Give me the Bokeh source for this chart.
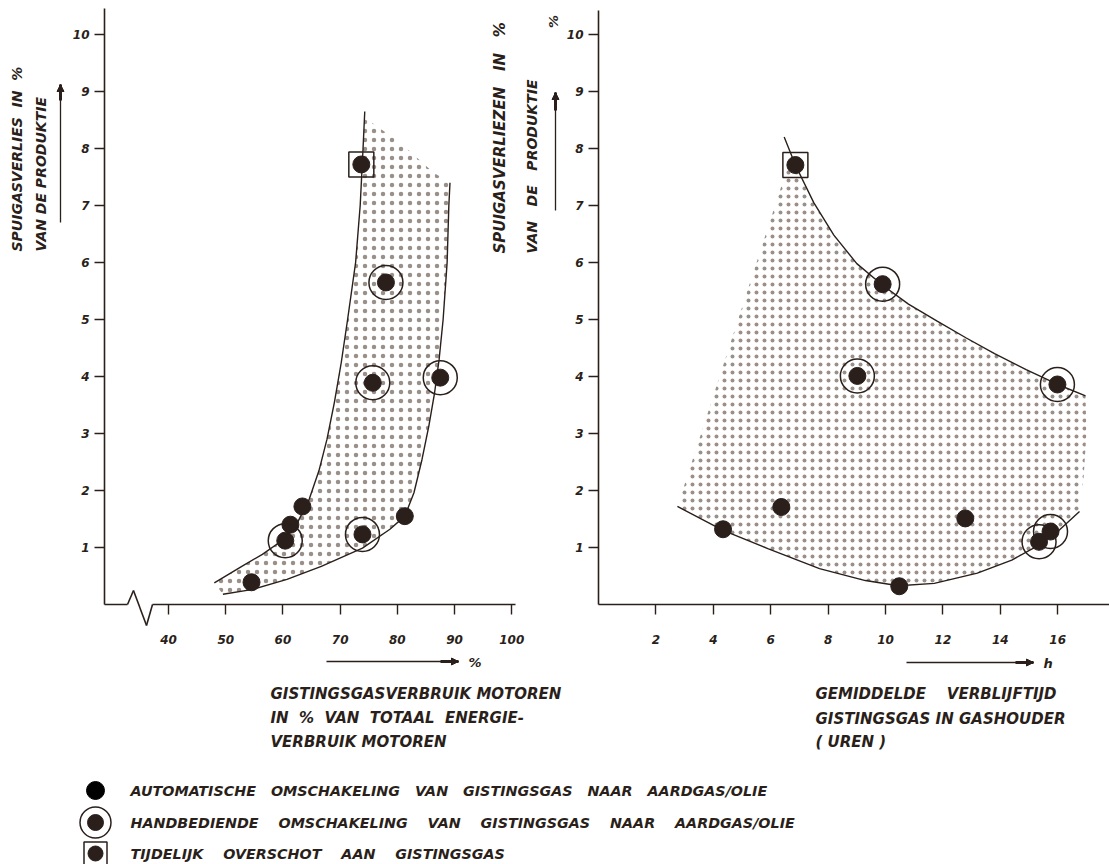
from math import pi
from bokeh.plotting import figure
from bokeh.models import Label, Arrow, NormalHead, Range1d, FixedTicker, LinearAxis
from bokeh.embed import file_html
from bokeh.resources import INLINE

INK = "#2a1f1a"
DOTS = "#9a908a"
FONT = "DejaVu Sans"

# ---------------- data ----------------
# Left panel: gas use of engines (% of total energy use) vs purge-gas losses (%)
left_auto_x = [54.5, 61.3, 63.4, 81.3]
left_auto_y = [0.39, 1.40, 1.72, 1.55]
left_hand_x = [60.4, 73.9, 75.7, 78.0, 87.5]
left_hand_y = [1.12, 1.23, 3.89, 5.65, 3.98]
left_temp_x = [73.7]
left_temp_y = [7.72]
left_bound1_x = [48.0, 52.8, 56.4, 60.1, 62.6, 64.6, 66.3, 67.7, 69.0, 70.2, 71.3, 72.7, 73.5, 74.0, 74.3]
left_bound1_y = [0.38, 0.67, 0.88, 1.14, 1.45, 1.85, 2.35, 2.90, 3.55, 4.25, 5.00, 6.00, 7.00, 8.00, 8.65]
left_bound2_x = [49.5, 54.5, 60.7, 66.7, 73.9, 78.7, 81.3, 82.9, 84.3, 85.5, 86.5, 87.3, 88.0, 88.7, 89.0, 89.2]
left_bound2_y = [0.18, 0.26, 0.44, 0.67, 0.99, 1.32, 1.55, 1.96, 2.54, 3.13, 3.71, 4.30, 5.00, 6.00, 7.00, 7.40]
left_top_x = [74.2, 80.5, 86.3, 89.2]
left_top_y = [8.55, 8.10, 7.58, 7.40]
left_xticks = [40, 50, 60, 70, 80, 90, 100]

# Right panel: mean residence time in gas holder (h) vs purge-gas losses (%)
right_auto_x = [4.34, 6.37, 10.48, 12.78]
right_auto_y = [1.32, 1.71, 0.32, 1.51]
right_hand_x = [9.90, 9.02, 15.99, 15.35, 15.75]
right_hand_y = [5.62, 4.01, 3.86, 1.10, 1.28]
right_temp_x = [6.86]
right_temp_y = [7.71]
right_upper_x = [6.47, 6.86, 7.5, 8.2, 9.0, 9.9, 10.8, 11.8, 12.8, 13.8, 14.9, 16.0, 16.97]
right_upper_y = [8.20, 7.71, 7.05, 6.48, 5.98, 5.60, 5.27, 4.97, 4.68, 4.40, 4.12, 3.86, 3.66]
right_lower_x = [2.75, 4.34, 5.9, 7.7, 9.3, 10.45, 11.7, 13.2, 14.4, 15.3, 16.0, 16.76]
right_lower_y = [1.72, 1.30, 0.98, 0.63, 0.42, 0.33, 0.37, 0.55, 0.78, 1.03, 1.28, 1.63]
right_edge_x = [16.97, 17.0, 16.9, 16.76]
right_edge_y = [3.66, 3.0, 2.2, 1.63]
right_side_x = [2.75, 6.7]
right_side_y = [1.72, 7.85]
right_xticks = [2, 4, 6, 8, 10, 12, 14, 16]

y_ticks = [1, 2, 3, 4, 5, 6, 7, 8, 9, 10]


def spaced(words, n):
    return ("\u00a0" * (n - 1) + " ").join(words)


legend_labels = [
    spaced(["AUTOMATISCHE", "OMSCHAKELING", "VAN", "GISTINGSGAS", "NAAR", "AARDGAS/OLIE"], 3),
    spaced(["HANDBEDIENDE", "OMSCHAKELING", "VAN", "GISTINGSGAS", "NAAR", "AARDGAS/OLIE"], 4),
    spaced(["TIJDELIJK", "OVERSCHOT", "AAN", "GISTINGSGAS"], 4),
]

# ---------------- layout constants (page pixels) ----------------
Y0_PX, PX_PER_Y = 604.0, 57.0
L_X0, L_PX0, L_PXU = 28.8, 104.0, 5.72
R_PX0, R_PXU = 598.0, 28.7
W, H = 1109, 864


def Y(py):
    return (Y0_PX - py) / PX_PER_Y


def LX(px):
    return L_X0 + (px - L_PX0) / L_PXU


def RX(px):
    return (px - R_PX0) / R_PXU


p = figure(width=W, height=H, output_backend="svg", toolbar_location=None,
           x_range=Range1d(LX(0), LX(W)), y_range=Range1d(Y(H), Y(0)),
           x_axis_location=None, y_axis_location=None, min_border=0)
p.extra_x_ranges = {"right": Range1d(RX(0), RX(W))}
p.grid.visible = False
p.outline_line_color = None
p.background_fill_color = "white"
p.border_fill_color = "white"


def styled_axis(ax):
    ax.axis_line_color = INK
    ax.axis_line_width = 1.6
    ax.major_tick_line_color = INK
    ax.major_tick_line_width = 1.4
    ax.major_tick_in = 0
    ax.major_tick_out = 10
    ax.minor_tick_line_color = None
    ax.major_label_text_font = FONT
    ax.major_label_text_font_size = "12px"
    ax.major_label_text_font_style = "bold italic"
    ax.major_label_text_color = INK
    return ax


axLx = styled_axis(LinearAxis(fixed_location=0, bounds=(LX(152), LX(515)),
                              ticker=FixedTicker(ticks=left_xticks), major_label_standoff=20))
axLy = styled_axis(LinearAxis(fixed_location=L_X0, bounds=(0, Y(8)),
                              ticker=FixedTicker(ticks=y_ticks), major_label_standoff=5))
axRx = styled_axis(LinearAxis(x_range_name="right", fixed_location=0, bounds=(0, RX(W)),
                              ticker=FixedTicker(ticks=right_xticks), major_label_standoff=20))
axRy = styled_axis(LinearAxis(x_range_name="right", fixed_location=0, bounds=(0, Y(10)),
                              ticker=FixedTicker(ticks=y_ticks), major_label_standoff=5))
p.add_layout(axLx, "below")
p.add_layout(axRx, "below")
p.add_layout(axLy, "left")
p.add_layout(axRy, "left")


def markers(ax, ay, hx, hy, tx, ty, rn="default"):
    p.scatter(ax, ay, marker="circle", size=17, color=INK, x_range_name=rn)
    p.scatter(hx, hy, marker="circle", size=34, fill_color=None, line_color=INK,
              line_width=1.5, x_range_name=rn)
    p.scatter(hx, hy, marker="circle", size=17, color=INK, x_range_name=rn)
    p.scatter(tx, ty, marker="square", size=25, fill_color=None, line_color=INK,
              line_width=1.5, x_range_name=rn)
    p.scatter(tx, ty, marker="circle", size=17, color=INK, x_range_name=rn)


# ---------------- left panel ----------------
fill_lx = left_bound1_x[:14] + left_top_x + left_bound2_x[::-1][1:]
fill_ly = left_bound1_y[:14] + left_top_y + left_bound2_y[::-1][1:]
p.patch(fill_lx, fill_ly, fill_alpha=0, line_color=None,
        hatch_pattern=".", hatch_color=DOTS, hatch_scale=9, hatch_weight=0.9)
p.line(left_bound1_x, left_bound1_y, line_color=INK, line_width=1.4)
p.line(left_bound2_x, left_bound2_y, line_color=INK, line_width=1.4)
markers(left_auto_x, left_auto_y, left_hand_x, left_hand_y, left_temp_x, left_temp_y)

# ---------------- right panel ----------------
fill_rx = right_side_x[1:] + right_upper_x[1:] + right_edge_x[1:] + right_lower_x[::-1][1:]
fill_ry = right_side_y[1:] + right_upper_y[1:] + right_edge_y[1:] + right_lower_y[::-1][1:]
p.patch(fill_rx, fill_ry, fill_alpha=0, line_color=None, x_range_name="right",
        hatch_pattern=".", hatch_color=DOTS, hatch_scale=8, hatch_weight=0.9)
p.line(right_upper_x, right_upper_y, line_color=INK, line_width=1.4, x_range_name="right")
p.line(right_lower_x, right_lower_y, line_color=INK, line_width=1.4, x_range_name="right")
markers(right_auto_x, right_auto_y, right_hand_x, right_hand_y, right_temp_x, right_temp_y, "right")


# ---------------- decorations, titles (page-pixel placement) ----------------
def txt(px, py, t, angle=0.0, size="15px", align="left"):
    p.add_layout(Label(x=LX(px), y=Y(py), text=t, angle=angle, text_font=FONT,
                       text_font_size=size, text_font_style="bold italic",
                       text_color=INK, text_align=align, text_baseline="middle"))


def seg(px0, py0, px1, py1, w=1.6):
    p.add_layout(Arrow(end=None, x_start=LX(px0), y_start=Y(py0), x_end=LX(px1), y_end=Y(py1),
                       line_color=INK, line_width=w))


def arrow(px0, py0, px1, py1, pxt, pyt):
    seg(px0, py0, px1, py1, 1.3)
    seg(pxt, pyt, px1, py1, 3.0)
    p.add_layout(Arrow(end=NormalHead(size=7, fill_color=INK, line_color=INK, line_width=1),
                       x_start=LX(pxt), y_start=Y(pyt), x_end=LX(px1), y_end=Y(py1),
                       line_color=INK, line_width=1.0))


# x-axis break
seg(104, 604, 127, 604)
seg(127, 604, 133, 590)
seg(133, 590, 146, 625)
seg(146, 625, 152, 604)

# left panel titles
txt(16, 251, spaced(["SPUIGASVERLIES", "IN", "%"], 2), angle=pi / 2, size="14px")
txt(40, 251, "VAN DE PRODUKTIE", angle=pi / 2, size="14px")
arrow(60, 222, 60, 84, 60, 100)
arrow(326, 661, 458, 661, 440, 661)
txt(468, 662, "%", size="13px")
txt(270, 693, "GISTINGSGASVERBRUIK MOTOREN")
txt(270, 717, spaced(["IN", "%", "VAN", "TOTAAL", "ENERGIE-"], 2))
txt(270, 741, "VERBRUIK MOTOREN")

# right panel titles
txt(499, 253, spaced(["SPUIGASVERLIEZEN", "IN", "%"], 3), angle=pi / 2, size="15px")
txt(531, 253, "VAN\u00a0\u00a0 DE\u00a0\u00a0 PRODUKTIE", angle=pi / 2, size="14px")
arrow(555, 210, 555, 92, 555, 110)
txt(553, 21, "%", angle=pi / 2, size="13px", align="center")
arrow(906, 662, 1033, 662, 1015, 662)
txt(1043, 663, "h", size="13px")
txt(815, 693, spaced(["GEMIDDELDE", "VERBLIJFTIJD"], 4))
txt(815, 718, "GISTINGSGAS IN GASHOUDER")
txt(815, 741, "(\u00a0UREN\u00a0)")

# ---------------- legend ----------------
LEG_X, LEG_TX, LEG_ROWS = 95, 130, [790, 822, 853]
p.scatter([LX(LEG_X)], [Y(LEG_ROWS[0])], marker="circle", size=18, color="black")
p.scatter([LX(LEG_X)], [Y(LEG_ROWS[1])], marker="circle", size=31, fill_color=None,
          line_color=INK, line_width=1.5)
p.scatter([LX(LEG_X)], [Y(LEG_ROWS[1])], marker="circle", size=16, color=INK)
p.scatter([LX(LEG_X)], [Y(LEG_ROWS[2])], marker="square", size=23, fill_color=None,
          line_color=INK, line_width=1.5)
p.scatter([LX(LEG_X)], [Y(LEG_ROWS[2])], marker="circle", size=15, color=INK)
for yy, t in zip(LEG_ROWS, legend_labels):
    txt(LEG_TX, yy, t, size="14.3px")

open("out.html", "w").write(file_html(p, INLINE))
